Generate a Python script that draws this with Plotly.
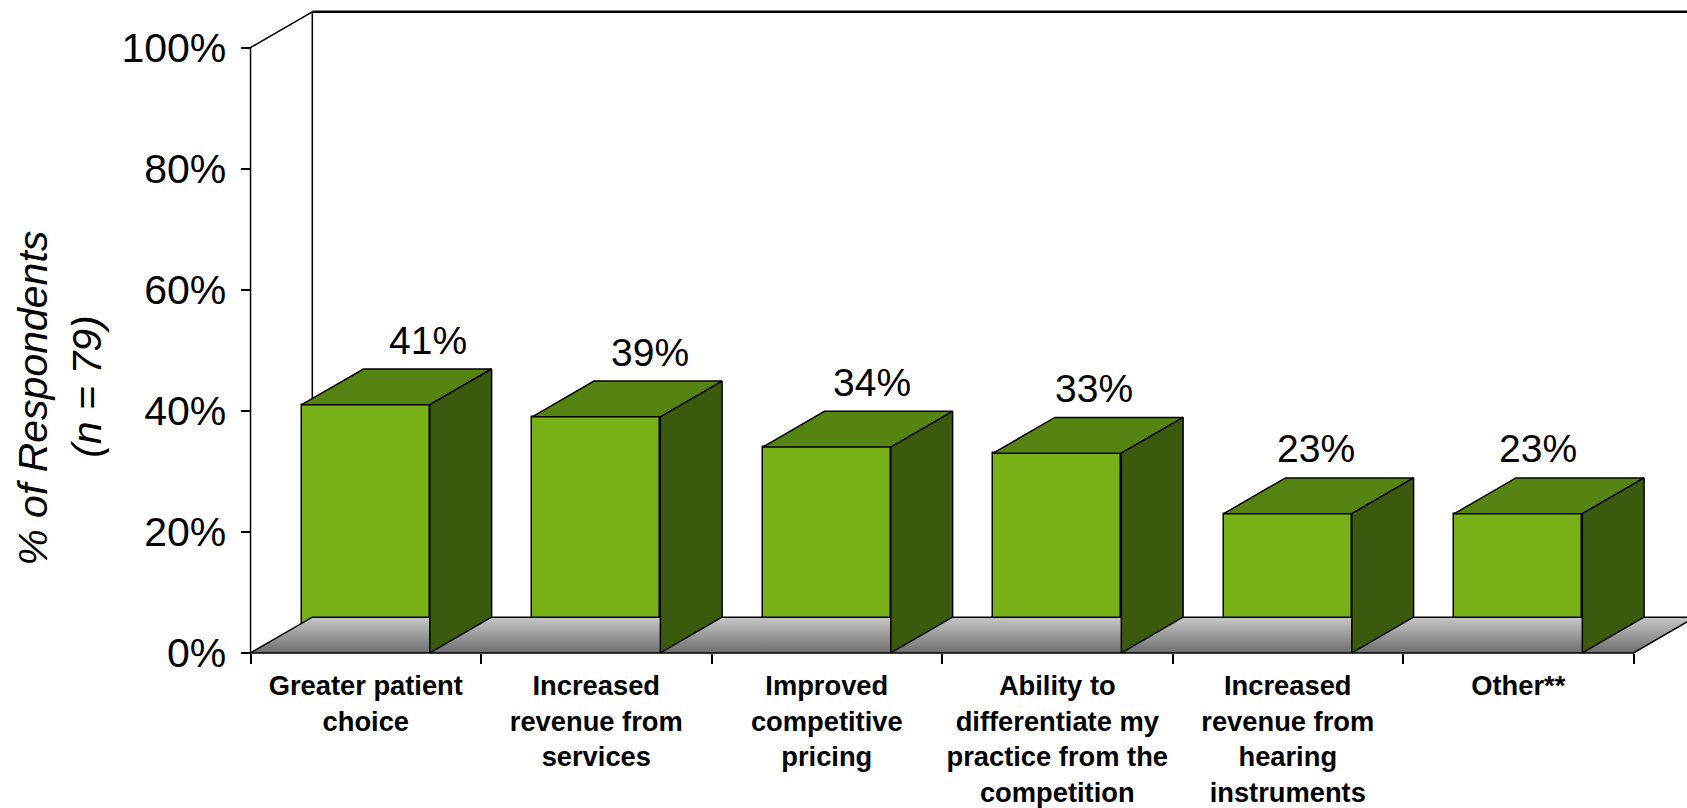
import plotly.graph_objects as go

# ---------------- data ----------------
categories = [
    "Greater patient<br>choice",
    "Increased<br>revenue from<br>services",
    "Improved<br>competitive<br>pricing",
    "Ability to<br>differentiate my<br>practice from the<br>competition",
    "Increased<br>revenue from<br>hearing<br>instruments",
    "Other**",
]
values = [41, 39, 34, 33, 23, 23]
y_tick_vals = [0, 20, 40, 60, 80, 100]
y_tick_text = ["0%", "20%", "40%", "60%", "80%", "100%"]
y_title_line1 = "% of Respondents"
y_title_line2 = "(<i>n</i> = 79)"

# ---------------- styling / geometry ----------------
W, H = 1687, 808
UNIT_X = 230.5      # px per category
X0_PX = 250.5       # px of x = 0
UNIT_Y = 6.073      # px per percent
Y0_PX = 655.0       # px of y = 0
TOP_PX = 8.0

x_range = [-0.05, (W - X0_PX) / UNIT_X]
y_range = [-2.0, (Y0_PX - TOP_PX) / UNIT_Y]
m_l = X0_PX + x_range[0] * UNIT_X
m_b = H - (Y0_PX - y_range[0] * UNIT_Y)
plot_w = W - m_l
plot_h = H - TOP_PX - m_b

BAR_W = 0.556
DX = 0.268          # depth offset in category units
DY = 5.9            # depth offset in percent units

FRONT = "#78B117"
TOP = "#568413"
SIDE = "#3B5A0D"
EDGE = dict(color="black", width=1.5)
FONT = "Liberation Sans, Arial, sans-serif"

n = len(values)
centers = [i + 0.5 for i in range(n)]

fig = go.Figure()

# floor
fx = [0, n, n + DX, DX, 0]
fy = [0, 0, DY, DY, 0]
fig.add_trace(go.Scatter(
    x=fx, y=fy, mode="lines", fill="toself",
    fillgradient=dict(type="vertical",
                      colorscale=[[0, "#6e6e6e"], [1, "#c8c8c8"]]),
    line=EDGE, hoverinfo="skip", showlegend=False))

# front faces
fig.add_trace(go.Bar(
    x=centers, y=values, width=BAR_W,
    marker=dict(color=FRONT, line=EDGE),
    hoverinfo="skip", showlegend=False))

# top and side faces
tx, ty, sx, sy = [], [], [], []
for c, v in zip(centers, values):
    a, b = c - BAR_W / 2, c + BAR_W / 2
    tx += [a, b, b + DX, a + DX, a, None]
    ty += [v, v, v + DY, v + DY, v, None]
    sx += [b, b + DX, b + DX, b, b, None]
    sy += [0, DY, v + DY, v, 0, None]
fig.add_trace(go.Scatter(x=tx, y=ty, mode="lines", fill="toself",
                         fillcolor=TOP, line=EDGE, hoverinfo="skip",
                         showlegend=False))
fig.add_trace(go.Scatter(x=sx, y=sy, mode="lines", fill="toself",
                         fillcolor=SIDE, line=EDGE, hoverinfo="skip",
                         showlegend=False))

# walls / axis lines
ymax = max(y_tick_vals)
shapes = [
    dict(type="line", x0=0, x1=0, y0=0, y1=ymax, line=EDGE, layer="below"),
    dict(type="line", x0=0, x1=DX, y0=ymax, y1=ymax + DY, line=EDGE, layer="below"),
    dict(type="line", x0=DX, x1=DX, y0=DY, y1=ymax + DY, line=EDGE, layer="below"),
    dict(type="line", x0=DX, x1=x_range[1] + 1, y0=ymax + DY, y1=ymax + DY,
         line=dict(color="black", width=2.5), layer="below"),
]
for s in shapes:
    s["xref"] = "x"
    s["yref"] = "y"

# data labels (placed above the top face, drifting slightly left across the chart)
annotations = []
for i, (c, v) in enumerate(zip(centers, values)):
    shift_px = 62 - 8.5 * i
    annotations.append(dict(
        x=c, y=v + DY, xref="x", yref="y", text=f"{v}%",
        showarrow=False, xshift=shift_px, yshift=29, yanchor="middle",
        font=dict(family=FONT, size=39, color="black")))

def px2paper(px, py):
    return (px - m_l) / plot_w, (H - m_b - py) / plot_h

for txt, (px, py) in [(y_title_line1, (33, 400)), (y_title_line2, (87, 388))]:
    xp, yp = px2paper(px, py)
    annotations.append(dict(
        x=xp, y=yp, xref="paper", yref="paper", text=f"<i>{txt}</i>",
        textangle=-90, showarrow=False, xanchor="center", yanchor="middle",
        font=dict(family=FONT, size=41, color="black")))

fig.update_layout(
    width=W, height=H,
    margin=dict(l=round(m_l), r=0, t=round(TOP_PX), b=round(m_b), pad=0),
    paper_bgcolor="white", plot_bgcolor="white",
    shapes=shapes, annotations=annotations,
    bargap=0, showlegend=False,
    xaxis=dict(
        range=x_range, anchor="free",
        position=(0 - y_range[0]) / (y_range[1] - y_range[0]),
        showgrid=False, zeroline=False, showline=False,
        tickmode="array", tickvals=centers, ticktext=categories,
        ticks="", ticklabelstandoff=14,
        tickfont=dict(family=FONT, size=27.3, color="black", weight="bold"),
        minor=dict(tickmode="array", tickvals=list(range(n + 1)),
                   ticks="outside", ticklen=10, tickwidth=1.5,
                   tickcolor="black", showgrid=False),
    ),
    yaxis=dict(
        range=y_range, anchor="free",
        position=(0 - x_range[0]) / (x_range[1] - x_range[0]),
        showgrid=False, zeroline=False, showline=False,
        tickmode="array", tickvals=y_tick_vals, ticktext=y_tick_text,
        ticks="outside", ticklen=10, tickwidth=1.5, tickcolor="black",
        ticklabelstandoff=6,
        tickfont=dict(family=FONT, size=41, color="black"),
    ),
)

fig.write_html("out.html")
